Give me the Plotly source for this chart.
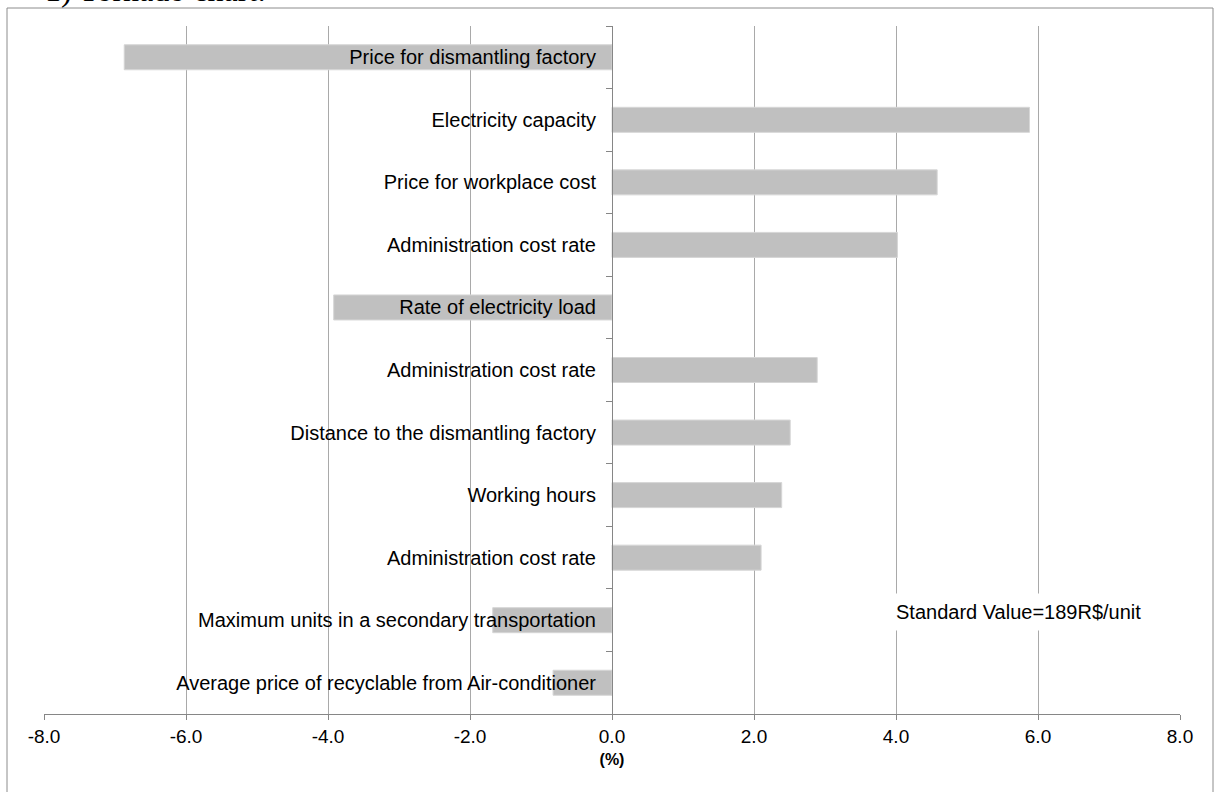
import plotly.graph_objects as go

# Sensitivity of the unit cost to each parameter (%)
parameters = [
    "Price for dismantling factory",
    "Electricity capacity",
    "Price for workplace cost",
    "Administration cost rate",
    "Rate of electricity load",
    "Administration cost rate",
    "Distance to the dismantling factory",
    "Working hours",
    "Administration cost rate",
    "Maximum units in a secondary transportation",
    "Average price of recyclable from Air-conditioner",
]
change_pct = [-6.87, 5.88, 4.58, 4.02, -3.92, 2.89, 2.51, 2.39, 2.10, -1.68, -0.83]

x_ticks = [-8, -6, -4, -2, 0, 2, 4, 6, 8]
x_tick_text = ["-8.0", "-6.0", "-4.0", "-2.0", "0.0", "2.0", "4.0", "6.0", "8.0"]

rows = list(range(len(parameters)))
boundaries = [r - 0.5 for r in rows] + [rows[-1] + 0.5]

FONT = "Liberation Sans, Arial, sans-serif"
AXIS_GREY = "#868686"
GRID_GREY = "#a9a9a9"

fig = go.Figure(
    go.Bar(
        x=change_pct,
        y=rows,
        orientation="h",
        width=0.4,
        marker=dict(color="#c0c0c0", line=dict(color="#d6d6d6", width=1)),
        hoverinfo="x",
    )
)

fig.update_layout(
    width=1215,
    height=792,
    margin=dict(l=44, r=35, t=26, b=78),
    paper_bgcolor="white",
    plot_bgcolor="white",
    showlegend=False,
    font=dict(family=FONT, size=20, color="black"),
    xaxis=dict(
        range=[-8, 8],
        tickvals=x_ticks,
        ticktext=x_tick_text,
        showgrid=True,
        gridcolor=GRID_GREY,
        gridwidth=1,
        zeroline=False,
        showline=True,
        linecolor=AXIS_GREY,
        linewidth=1,
        ticks="outside",
        ticklen=5,
        tickcolor=AXIS_GREY,
        tickfont=dict(family=FONT, size=19, color="black"),
        title=dict(text="<b>(%)</b>", font=dict(family=FONT, size=16, color="black"), standoff=8),
    ),
    yaxis=dict(
        range=[rows[-1] + 0.5, rows[0] - 0.5],
        anchor="free",
        position=0.5,
        tickvals=rows,
        ticktext=parameters,
        ticks="",
        showgrid=False,
        zeroline=False,
        showline=True,
        linecolor=AXIS_GREY,
        linewidth=1,
        ticklabelstandoff=12,
        tickfont=dict(family=FONT, size=20, color="black"),
        minor=dict(tickvals=boundaries, ticks="outside", ticklen=6, tickcolor=AXIS_GREY, showgrid=False),
    ),
    shapes=[
        # frame around the chart area
        dict(
            type="rect",
            xref="paper",
            yref="paper",
            x0=(7 - 44) / 1136,
            x1=(1213 - 44) / 1136,
            y0=(714 - 800) / 688,
            y1=(714 - 8) / 688,
            line=dict(color="#8c8c8c", width=1),
            fillcolor="rgba(0,0,0,0)",
            layer="below",
        )
    ],
    annotations=[
        dict(
            text="Standard Value=189R$/unit",
            xref="paper",
            yref="paper",
            x=(896 - 44) / 1136,
            y=(714 - 612) / 688,
            xanchor="left",
            yanchor="middle",
            xshift=-8,
            showarrow=False,
            bgcolor="white",
            borderpad=7,
            font=dict(family=FONT, size=20, color="black"),
        ),
        dict(
            text="1) Tornado chart:",
            xref="paper",
            yref="paper",
            x=(43 - 44) / 1136,
            y=(714 - 10) / 688,
            xanchor="left",
            yanchor="bottom",
            showarrow=False,
            font=dict(family="Liberation Serif, Times New Roman, serif", size=32, color="black"),
        ),
    ],
)

fig.write_html("out.html")
